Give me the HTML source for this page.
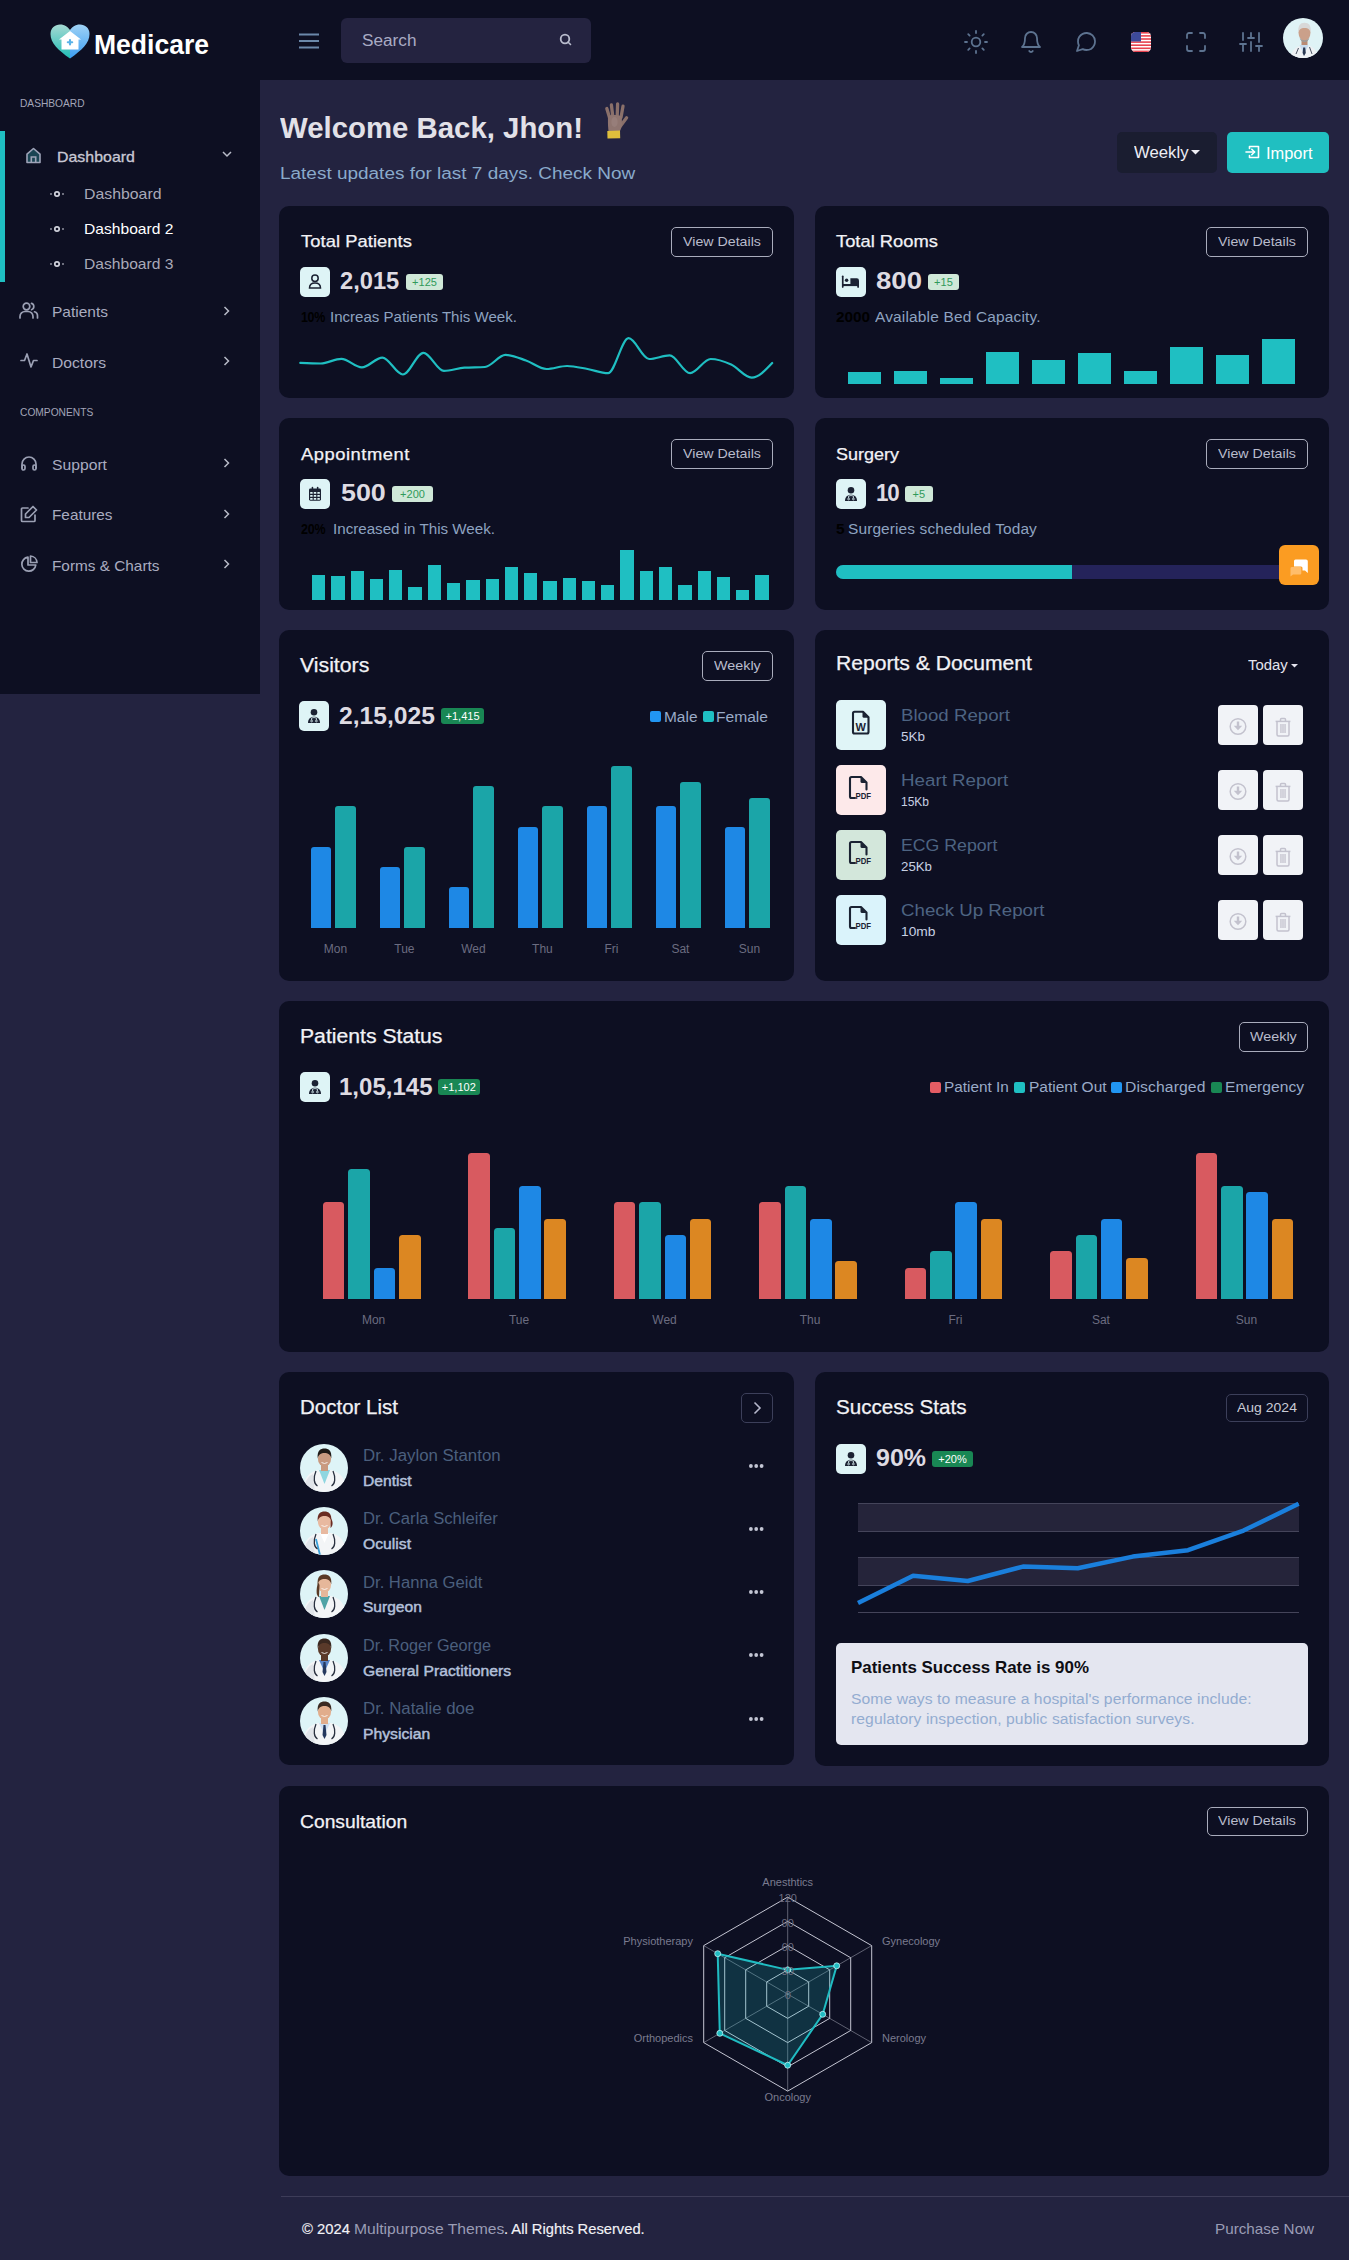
<!DOCTYPE html><html><head><meta charset="utf-8"><title>Medicare</title><style>
*{margin:0;padding:0;box-sizing:border-box}
html,body{width:1349px;height:2260px;overflow:hidden;background:#232340}
body{font-family:"Liberation Sans",sans-serif;position:relative;color:#e6e6ee}
.a{position:absolute}
.card{position:absolute;background:#0d0f22;border-radius:10px}
.t{position:absolute;white-space:nowrap;line-height:1}
.bx{position:absolute;box-sizing:border-box}
svg{position:absolute;overflow:visible}
</style></head><body>
<div class="bx" style="left:0.00px;top:0.00px;width:1349.00px;height:80.00px;background:#0d0f22"></div>
<div class="bx" style="left:0.00px;top:80.00px;width:260.00px;height:614.00px;background:#0d0f22"></div>
<svg style="left:50.00px;top:23.50px" width="40" height="35" viewBox="0 0 40 35">
<defs>
<linearGradient id="hl" x1="0" y1="0" x2="0" y2="1"><stop offset="0" stop-color="#a6d9d3"/><stop offset="1" stop-color="#1fbdb5"/></linearGradient>
<linearGradient id="hr" x1="0" y1="0" x2="0" y2="1"><stop offset="0" stop-color="#9fd2f5"/><stop offset="1" stop-color="#3b9df2"/></linearGradient>
<clipPath id="cl"><rect x="0" y="0" width="20" height="36"/></clipPath>
<clipPath id="cr"><rect x="20" y="0" width="20" height="36"/></clipPath>
</defs>
<path id="hp" d="M20 34.5 C 8 26 0.5 19 0.5 10 C 0.5 4 5 0.5 10 0.5 C 15 0.5 18 3 20 6 C 22 3 25 0.5 30 0.5 C 35 0.5 39.5 4 39.5 10 C 39.5 19 32 26 20 34.5 Z" fill="url(#hl)" clip-path="url(#cl)"/>
<path d="M20 34.5 C 8 26 0.5 19 0.5 10 C 0.5 4 5 0.5 10 0.5 C 15 0.5 18 3 20 6 C 22 3 25 0.5 30 0.5 C 35 0.5 39.5 4 39.5 10 C 39.5 19 32 26 20 34.5 Z" fill="url(#hr)" clip-path="url(#cr)"/>
<path d="M20 7 L9 15.5 L11.5 15.5 L11.5 25.5 L28.5 25.5 L28.5 15.5 L31 15.5 Z" fill="#fff"/>
<g stroke="#5ab2e8" stroke-width="2.1" stroke-linecap="round"><line x1="20" y1="16" x2="20" y2="20.4"/><line x1="17.8" y1="18.2" x2="22.2" y2="18.2"/></g>
</svg>
<div class="t" style="left:94.00px;top:31.30px;font-size:28.00px;color:#ffffff;font-weight:700;transform:scaleX(0.9473);transform-origin:0 0;">Medicare</div>
<svg style="left:299.00px;top:33.00px" width="20" height="16" viewBox="0 0 20 16"><g stroke="#6b88aa" stroke-width="2" stroke-linecap="butt"><line x1="0" y1="1.5" x2="20" y2="1.5"/><line x1="0" y1="8" x2="20" y2="8"/><line x1="0" y1="14.5" x2="20" y2="14.5"/></g></svg>
<div class="bx" style="left:341.00px;top:18.00px;width:250.00px;height:45.00px;background:#242340;border-radius:6px"></div>
<div class="t" style="left:361.50px;top:32.63px;font-size:15.80px;color:#a9abc4;transform:scaleX(1.0886);transform-origin:0 0;">Search</div>
<svg style="left:558.00px;top:32.00px" width="16" height="16" viewBox="0 0 16 16"><circle cx="7" cy="7" r="4.3" fill="none" stroke="#b9bccd" stroke-width="1.8"/><line x1="10.2" y1="10.2" x2="12.5" y2="12.5" stroke="#b9bccd" stroke-width="1.6" stroke-linecap="round"/></svg>
<svg style="left:964.00px;top:30.00px" width="24" height="24" viewBox="0 0 24 24"><g fill="none" stroke="#5d7390" stroke-width="1.8" stroke-linecap="round" stroke-linejoin="round"><circle cx="12" cy="12" r="4.3"/><line x1="12" y1="1" x2="12" y2="3"/><line x1="12" y1="21" x2="12" y2="23"/><line x1="4.22" y1="4.22" x2="5.64" y2="5.64"/><line x1="18.36" y1="18.36" x2="19.78" y2="19.78"/><line x1="1" y1="12" x2="3" y2="12"/><line x1="21" y1="12" x2="23" y2="12"/><line x1="4.22" y1="19.78" x2="5.64" y2="18.36"/><line x1="18.36" y1="5.64" x2="19.78" y2="4.22"/></g></svg>
<svg style="left:1019.00px;top:30.00px" width="24" height="24" viewBox="0 0 24 24"><g fill="none" stroke="#5d7390" stroke-width="1.8" stroke-linecap="round" stroke-linejoin="round"><path d="M18 8A6 6 0 0 0 6 8c0 7-3 9-3 9h18s-3-2-3-9"/><path d="M13.73 21a2 2 0 0 1-3.46 0"/></g></svg>
<svg style="left:1074.00px;top:30.00px" width="24" height="24" viewBox="0 0 24 24"><g fill="none" stroke="#5d7390" stroke-width="1.8" stroke-linecap="round" stroke-linejoin="round"><path d="M21 11.5a8.38 8.38 0 0 1-.9 3.8 8.5 8.5 0 0 1-7.6 4.7 8.38 8.38 0 0 1-3.8-.9L3 21l1.9-5.7a8.38 8.38 0 0 1-.9-3.8 8.5 8.5 0 0 1 4.7-7.6 8.38 8.38 0 0 1 3.8-.9h.5a8.48 8.48 0 0 1 8 8v.5z"/></g></svg>
<svg style="left:1131.00px;top:31.50px" width="20" height="20" viewBox="0 0 20 20"><defs><clipPath id="fc"><rect x="0" y="0" width="20" height="20" rx="4.5"/></clipPath></defs>
<g clip-path="url(#fc)"><rect width="20" height="20" fill="#fff"/>
<rect y="0" width="20" height="1.6" fill="#e8424f"/><rect y="3.1" width="20" height="1.6" fill="#e8424f"/><rect y="6.2" width="20" height="1.6" fill="#e8424f"/><rect y="9.3" width="20" height="1.6" fill="#e8424f"/><rect y="12.4" width="20" height="1.6" fill="#e8424f"/><rect y="15.5" width="20" height="1.6" fill="#e8424f"/><rect y="18.6" width="20" height="1.6" fill="#e8424f"/>
<rect x="0" y="0" width="10" height="9.5" fill="#3d4a9a"/></g></svg>
<svg style="left:1184.00px;top:30.00px" width="24" height="24" viewBox="0 0 24 24"><g fill="none" stroke="#5d7390" stroke-width="1.8" stroke-linecap="round" stroke-linejoin="round"><path d="M8 3H5a2 2 0 0 0-2 2v3"/><path d="M21 8V5a2 2 0 0 0-2-2h-3"/><path d="M3 16v3a2 2 0 0 0 2 2h3"/><path d="M16 21h3a2 2 0 0 0 2-2v-3"/></g></svg>
<svg style="left:1239.00px;top:30.00px" width="24" height="24" viewBox="0 0 24 24"><g fill="none" stroke="#5d7390" stroke-width="1.8" stroke-linecap="round" stroke-linejoin="round"><line x1="4" y1="21" x2="4" y2="14"/><line x1="4" y1="10" x2="4" y2="3"/><line x1="12" y1="21" x2="12" y2="12"/><line x1="12" y1="8" x2="12" y2="3"/><line x1="20" y1="21" x2="20" y2="16"/><line x1="20" y1="12" x2="20" y2="3"/><line x1="1" y1="14" x2="7" y2="14"/><line x1="9" y1="8" x2="15" y2="8"/><line x1="17" y1="16" x2="23" y2="16"/></g></svg>
<svg style="left:1283.00px;top:18.00px" width="40" height="40" viewBox="0 0 40 40"><defs><clipPath id="av"><circle cx="20" cy="20" r="20"/></clipPath></defs>
<circle cx="20" cy="20" r="20" fill="#dff3f6"/>
<g clip-path="url(#av)">
<path d="M7 42 C 8 33 12 29 19 27.5 L 23 26.5 C 30 28 34 32 36 42 Z" fill="#eef1f4"/>
<path d="M16.5 27.5 L 21.5 25 L 25.5 27.5 L 21 36 Z" fill="#c9dcef"/>
<path d="M20.2 29.5 L 22.2 29.5 L 22.8 35 L 21 38 L 19.6 35 Z" fill="#2a3852"/>
<path d="M13 36 L 15.5 30" stroke="#3a4252" stroke-width="0.9"/><path d="M29 36 L 26.5 29" stroke="#3a4252" stroke-width="0.9"/>
<rect x="18.5" y="20" width="6" height="7" fill="#b98b74"/>
<ellipse cx="21.5" cy="14.5" rx="6" ry="8" fill="#caa08a"/>
<path d="M15.4 15 C 14.6 8 17 4.8 21.5 4.8 C 26 4.8 28.5 7.5 27.6 15 C 27 11.5 25.5 10 21.5 10 C 17.5 10 16 11.5 15.4 15 Z" fill="#d8d8d8"/>
<path d="M16.5 19 C 18 23.5 25 23.5 26.5 19 C 26 22.5 24 24 21.5 24 C 19 24 17 22.5 16.5 19 Z" fill="#9b9b9b"/>
</g></svg>
<div class="t" style="left:20.20px;top:98.33px;font-size:10.60px;color:#a3a5b8;transform:scaleX(0.9621);transform-origin:0 0;">DASHBOARD</div>
<div class="bx" style="left:0.00px;top:131.00px;width:5.00px;height:151.00px;background:#1fbfc2"></div>
<svg style="left:25.00px;top:146.50px" width="17" height="17" viewBox="0 0 17 17"><path d="M2 7.2 L8.5 1.5 L15 7.2 V15.5 H2 Z" fill="#1a4453" stroke="#9ea3b8" stroke-width="1.6" stroke-linejoin="round"/><path d="M6.3 15.5 V10 H10.7 V15.5" fill="none" stroke="#9ea3b8" stroke-width="1.6"/></svg>
<div class="t" style="left:56.90px;top:150.28px;font-size:14.20px;color:#c8c8d4;letter-spacing:0.019px;transform:scaleX(1.1200);transform-origin:0 0;-webkit-text-stroke:0.3px #c8c8d4;">Dashboard</div>
<svg style="left:222.00px;top:150.50px" width="10" height="7" viewBox="0 0 10 7"><path d="M1 1 L5 5 L9 1" fill="none" stroke="#b8bbc8" stroke-width="1.5"/></svg>
<svg style="left:50.00px;top:190.50px" width="14" height="6" viewBox="0 0 14 6"><g stroke="#d0d2dc" fill="none"><line x1="0" y1="3" x2="2" y2="3" stroke-width="1"/><line x1="12" y1="3" x2="14" y2="3" stroke-width="1"/><circle cx="7" cy="3" r="2.2" stroke-width="1.7"/></g></svg>
<div class="t" style="left:84.40px;top:187.14px;font-size:14.60px;color:#a9a9b8;transform:scaleX(1.0851);transform-origin:0 0;">Dashboard</div>
<svg style="left:50.00px;top:225.50px" width="14" height="6" viewBox="0 0 14 6"><g stroke="#d0d2dc" fill="none"><line x1="0" y1="3" x2="2" y2="3" stroke-width="1"/><line x1="12" y1="3" x2="14" y2="3" stroke-width="1"/><circle cx="7" cy="3" r="2.2" stroke-width="1.7"/></g></svg>
<div class="t" style="left:84.40px;top:222.14px;font-size:14.60px;color:#ffffff;transform:scaleX(1.0706);transform-origin:0 0;">Dashboard 2</div>
<svg style="left:50.00px;top:260.50px" width="14" height="6" viewBox="0 0 14 6"><g stroke="#d0d2dc" fill="none"><line x1="0" y1="3" x2="2" y2="3" stroke-width="1"/><line x1="12" y1="3" x2="14" y2="3" stroke-width="1"/><circle cx="7" cy="3" r="2.2" stroke-width="1.7"/></g></svg>
<div class="t" style="left:84.40px;top:257.14px;font-size:14.60px;color:#a9a9b8;transform:scaleX(1.0706);transform-origin:0 0;">Dashboard 3</div>
<svg style="left:19.00px;top:302.00px" width="20" height="17" viewBox="0 0 20 17"><g fill="none" stroke="#9ba0b4" stroke-width="1.7" stroke-linecap="round"><circle cx="7.5" cy="4.5" r="3.3"/><path d="M1 16 V14.5 A5 5 0 0 1 6 9.5 H9 A5 5 0 0 1 14 14.5 V16"/><path d="M12.5 1.4 A3.3 3.3 0 0 1 12.5 7.7"/><path d="M15.5 9.8 A4.5 4.5 0 0 1 18.5 14.5 V16"/></g></svg>
<div class="t" style="left:51.60px;top:305.21px;font-size:14.40px;color:#a9acc0;transform:scaleX(1.0763);transform-origin:0 0;">Patients</div>
<svg style="left:223.00px;top:306.00px" width="8" height="10" viewBox="0 0 8 10"><path d="M1.5 1 L5.5 5 L1.5 9" fill="none" stroke="#b8bbc8" stroke-width="1.5"/></svg>
<svg style="left:20.00px;top:352.00px" width="18" height="17" viewBox="0 0 18 17"><path d="M1 8.5 H4.5 L7 2 L11 15 L13.5 8.5 H17" fill="none" stroke="#9ba0b4" stroke-width="1.7" stroke-linecap="round" stroke-linejoin="round"/></svg>
<div class="t" style="left:51.60px;top:355.81px;font-size:14.40px;color:#a9acc0;transform:scaleX(1.0884);transform-origin:0 0;">Doctors</div>
<svg style="left:223.00px;top:356.00px" width="8" height="10" viewBox="0 0 8 10"><path d="M1.5 1 L5.5 5 L1.5 9" fill="none" stroke="#b8bbc8" stroke-width="1.5"/></svg>
<div class="t" style="left:20.00px;top:406.53px;font-size:10.60px;color:#a3a5b8;transform:scaleX(0.9648);transform-origin:0 0;">COMPONENTS</div>
<svg style="left:20.00px;top:455.00px" width="18" height="16" viewBox="0 0 18 16"><g fill="none" stroke="#9ba0b4" stroke-width="1.7" stroke-linecap="round"><path d="M2 13 V9 A7 7 0 0 1 16 9 V13"/><rect x="2" y="10" width="3" height="5" rx="1.5"/><rect x="13" y="10" width="3" height="5" rx="1.5"/></g></svg>
<div class="t" style="left:51.60px;top:457.81px;font-size:14.40px;color:#a9acc0;transform:scaleX(1.0905);transform-origin:0 0;">Support</div>
<svg style="left:223.00px;top:458.00px" width="8" height="10" viewBox="0 0 8 10"><path d="M1.5 1 L5.5 5 L1.5 9" fill="none" stroke="#b8bbc8" stroke-width="1.5"/></svg>
<svg style="left:20.00px;top:505.00px" width="18" height="18" viewBox="0 0 18 18"><g fill="none" stroke="#9ba0b4" stroke-width="1.7" stroke-linecap="round" stroke-linejoin="round"><path d="M8 3 H2.5 A1 1 0 0 0 1.5 4 V15.5 A1 1 0 0 0 2.5 16.5 H14 A1 1 0 0 0 15 15.5 V10"/><path d="M13 1.5 L16.5 5 L9 12.5 H5.5 V9 Z"/></g></svg>
<div class="t" style="left:51.60px;top:508.31px;font-size:14.40px;color:#a9acc0;transform:scaleX(1.0646);transform-origin:0 0;">Features</div>
<svg style="left:223.00px;top:509.00px" width="8" height="10" viewBox="0 0 8 10"><path d="M1.5 1 L5.5 5 L1.5 9" fill="none" stroke="#b8bbc8" stroke-width="1.5"/></svg>
<svg style="left:20.00px;top:555.00px" width="18" height="18" viewBox="0 0 18 18"><g fill="none" stroke="#9ba0b4" stroke-width="1.7" stroke-linejoin="round"><path d="M8 2.2 A7 7 0 1 0 15.8 10 H8 Z"/><path d="M10.5 1 A7 7 0 0 1 17 7.5 H10.5 Z"/></g></svg>
<div class="t" style="left:51.60px;top:558.81px;font-size:14.40px;color:#a9acc0;transform:scaleX(1.0663);transform-origin:0 0;">Forms &amp; Charts</div>
<svg style="left:223.00px;top:559.00px" width="8" height="10" viewBox="0 0 8 10"><path d="M1.5 1 L5.5 5 L1.5 9" fill="none" stroke="#b8bbc8" stroke-width="1.5"/></svg>
<div class="t" style="left:280.00px;top:113.40px;font-size:29.30px;color:#e2e1e8;font-weight:700;transform:scaleX(1.0023);transform-origin:0 0;">Welcome Back, Jhon!</div>
<svg style="left:595.00px;top:98.00px" width="40" height="45" viewBox="0 0 40 45">
<g stroke="#8a706a" stroke-width="3.3" stroke-linecap="round" fill="none">
<path d="M11.8 10.5 L 14.8 20.5"/><path d="M16.4 7 L 17.8 18.5"/><path d="M22.6 6 L 22.2 18.5"/><path d="M28 8.2 L 26 19.5"/><path d="M31.6 19.8 L 25.5 28"/>
</g>
<path d="M13 18 C 14 16.5 25 16.5 26.8 18.5 L 27 27 C 26.5 30 25.5 32 25 33 L 13.5 33 C 13 29 12.8 24 13 18 Z" fill="#8f7570"/>
<ellipse cx="19.5" cy="24" rx="3.2" ry="5" fill="#a58f8c" opacity="0.35"/>
<path d="M12.3 33 L 25 32.6 L 25.2 40.2 L 12.5 40.5 Z" fill="#dfbf3c"/>
</svg>
<div class="t" style="left:279.50px;top:164.94px;font-size:17.20px;color:#8aaacb;transform:scaleX(1.1034);transform-origin:0 0;">Latest updates for last 7 days. Check Now</div>
<div class="bx" style="left:1117.00px;top:132.00px;width:100.00px;height:40.50px;background:#1a1d30;border-radius:5px"></div>
<div class="t" style="left:1134.00px;top:145.13px;font-size:15.80px;color:#eeeef4;transform:scaleX(1.0580);transform-origin:0 0;">Weekly</div>
<svg style="left:1191.00px;top:150.00px" width="9" height="5" viewBox="0 0 9 5"><path d="M0 0 H9 L4.5 4.5 Z" fill="#eeeef4"/></svg>
<div class="bx" style="left:1227.00px;top:132.00px;width:102.00px;height:40.50px;background:#20bfc1;border-radius:5px"></div>
<svg style="left:1245.00px;top:145.00px" width="15" height="14" viewBox="0 0 15 14"><g fill="none" stroke="#fff" stroke-width="1.6" stroke-linejoin="round" stroke-linecap="round"><path d="M4.5 3.5 V1.5 H13.5 V12.5 H4.5 V10.5"/><path d="M1 7 H9.5"/><path d="M6.8 4.3 L9.5 7 L6.8 9.7"/></g></svg>
<div class="t" style="left:1265.50px;top:146.13px;font-size:15.80px;color:#ffffff;transform:scaleX(1.0385);transform-origin:0 0;">Import</div>
<div class="card" style="left:279px;top:206px;width:515px;height:192px"></div>
<div class="t" style="left:301.00px;top:233.32px;font-size:16.40px;color:#f2f2f6;letter-spacing:0.046px;transform:scaleX(1.1200);transform-origin:0 0;-webkit-text-stroke:0.25px #f2f2f6;">Total Patients</div>
<div class="bx" style="left:671.00px;top:227.00px;width:102.00px;height:30.00px;border:1px solid #a9acbc;border-radius:5px"></div>
<div class="t" style="left:683.00px;top:234.78px;font-size:13.20px;color:#b9bccc;transform:scaleX(1.0775);transform-origin:0 0;">View Details</div>
<div class="bx" style="left:300.00px;top:267.00px;width:30.00px;height:30.00px;background:#def4f6;border-radius:5px"></div>
<svg style="left:300.00px;top:267.00px" width="30" height="30" viewBox="0 0 30 30"><g fill="none" stroke="#1b2233" stroke-width="1.5"><circle cx="15" cy="11.3" r="3.2"/><path d="M9.5 21 C 9.5 17.5 12 16 15 16 C 18 16 20.5 17.5 20.5 21 Z"/></g></svg>
<div class="t" style="left:340.40px;top:269.41px;font-size:24.80px;color:#dedbe2;font-weight:700;transform:scaleX(0.9555);transform-origin:0 0;">2,015</div>
<div class="bx" style="left:406.00px;top:274.00px;width:37.00px;height:16.00px;background:#cfe8d8;border-radius:3px"></div>
<div class="t" style="left:412.11px;top:276.95px;font-size:11.00px;color:#2f9a5a;">+125</div>
<div class="t" style="left:301.00px;top:310.52px;font-size:13.80px;color:#000000;font-weight:700;letter-spacing:-0.318px;transform:scaleX(0.9000);transform-origin:0 0;">10%</div>
<div class="t" style="left:329.50px;top:310.52px;font-size:13.80px;color:#8ea3c0;transform:scaleX(1.0916);transform-origin:0 0;">Increas Patients This Week.</div>
<svg style="left:0;top:0" width="1349" height="2260"><path d="M300.30 362.90 C307.14 363.20 313.98 363.50 320.82 363.50 C327.66 363.50 334.50 358.80 341.33 358.80 C348.17 358.80 355.01 367.40 361.85 367.40 C368.69 367.40 375.53 357.60 382.37 357.60 C389.21 357.60 396.05 374.50 402.88 374.50 C409.72 374.50 416.56 352.80 423.40 352.80 C430.24 352.80 437.08 370.90 443.92 370.90 C450.76 370.90 457.60 368.17 464.44 367.70 C471.28 367.23 478.11 367.47 484.95 367.00 C491.79 366.53 498.63 354.90 505.47 354.90 C512.31 354.90 519.15 358.15 525.99 360.50 C532.83 362.85 539.66 369.00 546.50 369.00 C553.34 369.00 560.18 366.00 567.02 366.00 C573.86 366.00 580.70 367.80 587.54 369.00 C594.38 370.20 601.22 373.20 608.06 373.20 C614.89 373.20 621.73 338.20 628.57 338.20 C635.41 338.20 642.25 359.00 649.09 359.00 C655.93 359.00 662.77 355.40 669.61 355.40 C676.45 355.40 683.28 373.20 690.12 373.20 C696.96 373.20 703.80 359.00 710.64 359.00 C717.48 359.00 724.32 361.40 731.16 364.50 C738.00 367.60 744.83 377.60 751.67 377.60 C758.51 377.60 765.35 370.30 772.19 363.00" fill="none" stroke="#1fbfc2" stroke-width="2.2" stroke-linecap="round"/></svg>
<div class="card" style="left:815px;top:206px;width:514px;height:192px"></div>
<div class="t" style="left:836.00px;top:233.32px;font-size:16.40px;color:#f2f2f6;transform:scaleX(1.1191);transform-origin:0 0;-webkit-text-stroke:0.25px #f2f2f6;">Total Rooms</div>
<div class="bx" style="left:1206.00px;top:227.00px;width:102.00px;height:30.00px;border:1px solid #a9acbc;border-radius:5px"></div>
<div class="t" style="left:1218.00px;top:234.78px;font-size:13.20px;color:#b9bccc;transform:scaleX(1.0775);transform-origin:0 0;">View Details</div>
<div class="bx" style="left:836.00px;top:267.00px;width:30.00px;height:30.00px;background:#def4f6;border-radius:5px"></div>
<svg style="left:836.00px;top:267.00px" width="30" height="30" viewBox="0 0 30 30"><g fill="#1b2233"><rect x="5.9" y="8.5" width="1.7" height="12.4" rx="0.8"/><rect x="6" y="17" width="17" height="2.1"/><rect x="21.2" y="14" width="1.8" height="6.9" rx="0.8"/><circle cx="10.6" cy="13.3" r="1.75"/><path d="M14.4 11.2 H20.8 A2.2 2.2 0 0 1 23 13.4 V18 H14.4 Z"/></g></svg>
<div class="t" style="left:876.00px;top:269.41px;font-size:24.80px;color:#dedbe2;font-weight:700;transform:scaleX(1.1117);transform-origin:0 0;">800</div>
<div class="bx" style="left:928.30px;top:274.00px;width:30.30px;height:16.00px;background:#cfe8d8;border-radius:3px"></div>
<div class="t" style="left:934.12px;top:276.95px;font-size:11.00px;color:#2f9a5a;">+15</div>
<div class="t" style="left:836.00px;top:310.52px;font-size:13.80px;color:#000000;font-weight:700;transform:scaleX(1.1075);transform-origin:0 0;">2000</div>
<div class="t" style="left:874.70px;top:310.52px;font-size:13.80px;color:#8ea3c0;letter-spacing:0.155px;transform:scaleX(1.1200);transform-origin:0 0;">Available Bed Capacity.</div>
<div class="bx" style="left:848.00px;top:371.80px;width:32.60px;height:12.00px;background:#1fbfc2"></div>
<div class="bx" style="left:894.00px;top:371.00px;width:32.60px;height:12.80px;background:#1fbfc2"></div>
<div class="bx" style="left:940.00px;top:377.80px;width:32.60px;height:6.00px;background:#1fbfc2"></div>
<div class="bx" style="left:986.00px;top:351.80px;width:32.60px;height:32.00px;background:#1fbfc2"></div>
<div class="bx" style="left:1032.00px;top:360.20px;width:32.60px;height:23.60px;background:#1fbfc2"></div>
<div class="bx" style="left:1078.00px;top:353.40px;width:32.60px;height:30.40px;background:#1fbfc2"></div>
<div class="bx" style="left:1124.00px;top:371.00px;width:32.60px;height:12.80px;background:#1fbfc2"></div>
<div class="bx" style="left:1170.00px;top:347.40px;width:32.60px;height:36.40px;background:#1fbfc2"></div>
<div class="bx" style="left:1216.00px;top:355.00px;width:32.60px;height:28.80px;background:#1fbfc2"></div>
<div class="bx" style="left:1262.00px;top:339.00px;width:32.60px;height:44.80px;background:#1fbfc2"></div>
<div class="card" style="left:279px;top:418px;width:515px;height:192px"></div>
<div class="t" style="left:301.00px;top:445.62px;font-size:16.40px;color:#f2f2f6;letter-spacing:0.476px;transform:scaleX(1.1200);transform-origin:0 0;-webkit-text-stroke:0.25px #f2f2f6;">Appointment</div>
<div class="bx" style="left:671.00px;top:439.00px;width:102.00px;height:30.00px;border:1px solid #a9acbc;border-radius:5px"></div>
<div class="t" style="left:683.00px;top:446.78px;font-size:13.20px;color:#b9bccc;transform:scaleX(1.0775);transform-origin:0 0;">View Details</div>
<div class="bx" style="left:300.00px;top:479.00px;width:30.00px;height:30.00px;background:#def4f6;border-radius:5px"></div>
<svg style="left:300.00px;top:479.00px" width="30" height="30" viewBox="0 0 30 30"><g fill="#1b2233"><rect x="9" y="9.5" width="12" height="12.2" rx="1.4"/><rect x="11.7" y="7.8" width="1.5" height="3" rx="0.7"/><rect x="16.9" y="7.8" width="1.5" height="3" rx="0.7"/></g><g fill="#def4f6"><rect x="10.1" y="12.9" width="2.6" height="1.8" rx="0.5"/><rect x="13.7" y="12.9" width="2.6" height="1.8" rx="0.5"/><rect x="17.3" y="12.9" width="2.6" height="1.8" rx="0.5"/><rect x="10.1" y="15.9" width="2.6" height="1.8" rx="0.5"/><rect x="13.7" y="15.9" width="2.6" height="1.8" rx="0.5"/><rect x="17.3" y="15.9" width="2.6" height="1.8" rx="0.5"/><rect x="10.1" y="18.9" width="2.6" height="1.8" rx="0.5"/><rect x="13.7" y="18.9" width="2.6" height="1.8" rx="0.5"/><rect x="17.3" y="18.9" width="2.6" height="1.8" rx="0.5"/></g></svg>
<div class="t" style="left:341.30px;top:481.41px;font-size:24.80px;color:#dedbe2;font-weight:700;transform:scaleX(1.0827);transform-origin:0 0;">500</div>
<div class="bx" style="left:392.00px;top:486.00px;width:41.00px;height:16.00px;background:#cfe8d8;border-radius:3px"></div>
<div class="t" style="left:400.11px;top:488.95px;font-size:11.00px;color:#2f9a5a;">+200</div>
<div class="t" style="left:301.00px;top:522.52px;font-size:13.80px;color:#000000;font-weight:700;letter-spacing:-0.133px;transform:scaleX(0.9000);transform-origin:0 0;">20%</div>
<div class="t" style="left:332.50px;top:522.52px;font-size:13.80px;color:#8ea3c0;transform:scaleX(1.0981);transform-origin:0 0;">Increased in This Week.</div>
<div class="bx" style="left:312.00px;top:575.00px;width:13.30px;height:25.00px;background:#1fbfc2"></div>
<div class="bx" style="left:331.28px;top:576.10px;width:13.30px;height:23.90px;background:#1fbfc2"></div>
<div class="bx" style="left:350.56px;top:571.30px;width:13.30px;height:28.70px;background:#1fbfc2"></div>
<div class="bx" style="left:369.84px;top:579.30px;width:13.30px;height:20.70px;background:#1fbfc2"></div>
<div class="bx" style="left:389.12px;top:570.10px;width:13.30px;height:29.90px;background:#1fbfc2"></div>
<div class="bx" style="left:408.40px;top:587.00px;width:13.30px;height:13.00px;background:#1fbfc2"></div>
<div class="bx" style="left:427.68px;top:564.90px;width:13.30px;height:35.10px;background:#1fbfc2"></div>
<div class="bx" style="left:446.96px;top:583.00px;width:13.30px;height:17.00px;background:#1fbfc2"></div>
<div class="bx" style="left:466.24px;top:580.10px;width:13.30px;height:19.90px;background:#1fbfc2"></div>
<div class="bx" style="left:485.52px;top:578.90px;width:13.30px;height:21.10px;background:#1fbfc2"></div>
<div class="bx" style="left:504.80px;top:566.50px;width:13.30px;height:33.50px;background:#1fbfc2"></div>
<div class="bx" style="left:524.08px;top:572.50px;width:13.30px;height:27.50px;background:#1fbfc2"></div>
<div class="bx" style="left:543.36px;top:581.30px;width:13.30px;height:18.70px;background:#1fbfc2"></div>
<div class="bx" style="left:562.64px;top:578.10px;width:13.30px;height:21.90px;background:#1fbfc2"></div>
<div class="bx" style="left:581.92px;top:581.30px;width:13.30px;height:18.70px;background:#1fbfc2"></div>
<div class="bx" style="left:601.20px;top:585.30px;width:13.30px;height:14.70px;background:#1fbfc2"></div>
<div class="bx" style="left:620.48px;top:550.10px;width:13.30px;height:49.90px;background:#1fbfc2"></div>
<div class="bx" style="left:639.76px;top:571.30px;width:13.30px;height:28.70px;background:#1fbfc2"></div>
<div class="bx" style="left:659.04px;top:567.30px;width:13.30px;height:32.70px;background:#1fbfc2"></div>
<div class="bx" style="left:678.32px;top:585.30px;width:13.30px;height:14.70px;background:#1fbfc2"></div>
<div class="bx" style="left:697.60px;top:570.90px;width:13.30px;height:29.10px;background:#1fbfc2"></div>
<div class="bx" style="left:716.88px;top:576.90px;width:13.30px;height:23.10px;background:#1fbfc2"></div>
<div class="bx" style="left:736.16px;top:590.10px;width:13.30px;height:9.90px;background:#1fbfc2"></div>
<div class="bx" style="left:755.44px;top:575.00px;width:13.30px;height:25.00px;background:#1fbfc2"></div>
<div class="card" style="left:815px;top:418px;width:514px;height:192px"></div>
<div class="t" style="left:836.00px;top:445.62px;font-size:16.40px;color:#f2f2f6;transform:scaleX(1.0971);transform-origin:0 0;-webkit-text-stroke:0.25px #f2f2f6;">Surgery</div>
<div class="bx" style="left:1206.00px;top:439.00px;width:102.00px;height:30.00px;border:1px solid #a9acbc;border-radius:5px"></div>
<div class="t" style="left:1218.00px;top:446.78px;font-size:13.20px;color:#b9bccc;transform:scaleX(1.0775);transform-origin:0 0;">View Details</div>
<div class="bx" style="left:836.00px;top:479.00px;width:30.00px;height:30.00px;background:#def4f6;border-radius:5px"></div>
<svg style="left:836.00px;top:479.00px" width="30" height="30" viewBox="0 0 30 30"><g fill="#1b2233"><circle cx="15" cy="11.2" r="3.3"/><path d="M9 22 C 9 18 11.5 15.8 15 15.8 C 18.5 15.8 21 18 21 22 Z"/></g><g fill="none" stroke="#def4f6" stroke-width="0.8"><circle cx="12.6" cy="20" r="0.9"/><circle cx="17.4" cy="20" r="0.9"/><path d="M12.6 19.1 V17 L15 16.5 L17.4 17 V19.1"/></g></svg>
<div class="t" style="left:876.00px;top:481.41px;font-size:24.80px;color:#dedbe2;font-weight:700;letter-spacing:-1.182px;transform:scaleX(0.9000);transform-origin:0 0;">10</div>
<div class="bx" style="left:905.00px;top:486.00px;width:27.60px;height:16.00px;background:#cfe8d8;border-radius:3px"></div>
<div class="t" style="left:912.53px;top:488.95px;font-size:11.00px;color:#2f9a5a;">+5</div>
<div class="t" style="left:836.00px;top:522.52px;font-size:13.80px;color:#000000;font-weight:700;letter-spacing:0.361px;transform:scaleX(1.1200);transform-origin:0 0;">5</div>
<div class="t" style="left:848.40px;top:522.52px;font-size:13.80px;color:#8ea3c0;letter-spacing:0.101px;transform:scaleX(1.1200);transform-origin:0 0;">Surgeries scheduled Today</div>
<div class="bx" style="left:836.00px;top:565.00px;width:472.00px;height:14.00px;background:#24235a;border-radius:7px"></div>
<div class="bx" style="left:836.00px;top:565.00px;width:236.00px;height:14.00px;background:#1fbfc2;border-radius:7px 0 0 7px"></div>
<div class="bx" style="left:1279.00px;top:545.00px;width:40.00px;height:40.00px;background:#fb9c22;border-radius:6px"></div>
<svg style="left:1285.00px;top:555.00px" width="28" height="24" viewBox="0 0 28 24"><path d="M9 6 A1.5 1.5 0 0 1 10.5 4.5 H21 A1.8 1.8 0 0 1 22.8 6.3 V18 L20 15.5 H17.5 V13 A1.5 1.5 0 0 0 16 11.5 H9 Z" fill="#fff"/><path d="M5.5 13.5 A1.3 1.3 0 0 1 6.8 12 H15 A1.3 1.3 0 0 1 16.3 13.3 V18.2 A1.3 1.3 0 0 1 15 19.5 H8 L5.5 21.5 Z" fill="#ffbd6a"/></svg>
<div class="card" style="left:279px;top:630px;width:515px;height:351px"></div>
<div class="t" style="left:300.00px;top:655.58px;font-size:19.40px;color:#f2f2f6;transform:scaleX(1.0957);transform-origin:0 0;-webkit-text-stroke:0.25px #f2f2f6;">Visitors</div>
<div class="bx" style="left:702.30px;top:651.20px;width:70.50px;height:29.60px;border:1px solid #a9acbc;border-radius:5px"></div>
<div class="t" style="left:714.15px;top:658.78px;font-size:13.20px;color:#b9bccc;transform:scaleX(1.0875);transform-origin:0 0;">Weekly</div>
<div class="bx" style="left:298.80px;top:701.30px;width:30.00px;height:30.00px;background:#def4f6;border-radius:5px"></div>
<svg style="left:298.80px;top:701.30px" width="30" height="30" viewBox="0 0 30 30"><g fill="#1b2233"><circle cx="15" cy="11.2" r="3.3"/><path d="M9 22 C 9 18 11.5 15.8 15 15.8 C 18.5 15.8 21 18 21 22 Z"/></g><g fill="none" stroke="#def4f6" stroke-width="0.8"><circle cx="12.6" cy="20" r="0.9"/><circle cx="17.4" cy="20" r="0.9"/><path d="M12.6 19.1 V17 L15 16.5 L17.4 17 V19.1"/></g></svg>
<div class="t" style="left:339.00px;top:704.21px;font-size:24.80px;color:#dedbe2;font-weight:700;transform:scaleX(0.9944);transform-origin:0 0;">2,15,025</div>
<div class="bx" style="left:441.30px;top:708.00px;width:42.50px;height:16.00px;background:#198754;border-radius:3px"></div>
<div class="t" style="left:445.57px;top:710.95px;font-size:11.00px;color:#ffffff;">+1,415</div>
<div class="bx" style="left:649.50px;top:710.50px;width:11.00px;height:11.00px;background:#2196f3;border-radius:2px"></div>
<div class="t" style="left:663.50px;top:709.65px;font-size:14.00px;color:#9aabc8;transform:scaleX(1.1040);transform-origin:0 0;">Male</div>
<div class="bx" style="left:702.50px;top:710.50px;width:11.00px;height:11.00px;background:#1fbfc2;border-radius:2px"></div>
<div class="t" style="left:716.00px;top:709.65px;font-size:14.00px;color:#9aabc8;transform:scaleX(1.1139);transform-origin:0 0;">Female</div>
<div class="bx" style="left:311.20px;top:847.40px;width:20.20px;height:80.80px;background:#1e88e5;border-radius:3px 3px 0 0"></div>
<div class="bx" style="left:335.40px;top:806.20px;width:20.20px;height:122.00px;background:#1ba5a8;border-radius:3px 3px 0 0"></div>
<div class="t" style="left:323.73px;top:942.84px;font-size:12.00px;color:#6b6c80;">Mon</div>
<div class="bx" style="left:380.20px;top:867.40px;width:20.20px;height:60.80px;background:#1e88e5;border-radius:3px 3px 0 0"></div>
<div class="bx" style="left:404.40px;top:847.40px;width:20.20px;height:80.80px;background:#1ba5a8;border-radius:3px 3px 0 0"></div>
<div class="t" style="left:394.28px;top:942.84px;font-size:12.00px;color:#6b6c80;">Tue</div>
<div class="bx" style="left:449.20px;top:887.40px;width:20.20px;height:40.80px;background:#1e88e5;border-radius:3px 3px 0 0"></div>
<div class="bx" style="left:473.40px;top:786.10px;width:20.20px;height:142.10px;background:#1ba5a8;border-radius:3px 3px 0 0"></div>
<div class="t" style="left:461.17px;top:942.84px;font-size:12.00px;color:#6b6c80;">Wed</div>
<div class="bx" style="left:518.20px;top:827.00px;width:20.20px;height:101.20px;background:#1e88e5;border-radius:3px 3px 0 0"></div>
<div class="bx" style="left:542.40px;top:806.20px;width:20.20px;height:122.00px;background:#1ba5a8;border-radius:3px 3px 0 0"></div>
<div class="t" style="left:532.06px;top:942.84px;font-size:12.00px;color:#6b6c80;">Thu</div>
<div class="bx" style="left:587.20px;top:806.20px;width:20.20px;height:122.00px;background:#1e88e5;border-radius:3px 3px 0 0"></div>
<div class="bx" style="left:611.40px;top:766.10px;width:20.20px;height:162.10px;background:#1ba5a8;border-radius:3px 3px 0 0"></div>
<div class="t" style="left:604.40px;top:942.84px;font-size:12.00px;color:#6b6c80;">Fri</div>
<div class="bx" style="left:656.20px;top:806.20px;width:20.20px;height:122.00px;background:#1e88e5;border-radius:3px 3px 0 0"></div>
<div class="bx" style="left:680.40px;top:782.10px;width:20.20px;height:146.10px;background:#1ba5a8;border-radius:3px 3px 0 0"></div>
<div class="t" style="left:671.39px;top:942.84px;font-size:12.00px;color:#6b6c80;">Sat</div>
<div class="bx" style="left:725.20px;top:827.00px;width:20.20px;height:101.20px;background:#1e88e5;border-radius:3px 3px 0 0"></div>
<div class="bx" style="left:749.40px;top:798.10px;width:20.20px;height:130.10px;background:#1ba5a8;border-radius:3px 3px 0 0"></div>
<div class="t" style="left:738.72px;top:942.84px;font-size:12.00px;color:#6b6c80;">Sun</div>
<div class="card" style="left:815px;top:630px;width:514px;height:351px"></div>
<div class="t" style="left:836.00px;top:653.58px;font-size:19.40px;color:#f2f2f6;transform:scaleX(1.0885);transform-origin:0 0;-webkit-text-stroke:0.25px #f2f2f6;">Reports &amp; Document</div>
<div class="t" style="left:1248.30px;top:657.65px;font-size:14.00px;color:#e4e4ee;transform:scaleX(1.0627);transform-origin:0 0;">Today</div>
<svg style="left:1291.00px;top:663.50px" width="7" height="4" viewBox="0 0 7 4"><path d="M0 0 H7 L3.5 3.5 Z" fill="#e4e4ee"/></svg>
<div class="bx" style="left:836.00px;top:700.00px;width:50.00px;height:50.00px;background:#e0f5f7;border-radius:5px"></div>
<svg style="left:836.00px;top:700.00px" width="50" height="50" viewBox="0 0 50 50"><path d="M18.5 11.8 H27 L32.5 17.3 V32 A1.5 1.5 0 0 1 31 33.5 H18.5 A1.5 1.5 0 0 1 17 32 V13.3 A1.5 1.5 0 0 1 18.5 11.8 Z" fill="none" stroke="#1b2333" stroke-width="2.1" stroke-linejoin="round"/><path d="M26.5 11.8 L32.5 17.8 H28 A1.5 1.5 0 0 1 26.5 16.3 Z" fill="#1b2333"/><text x="24.8" y="31" font-family="Liberation Sans" font-weight="700" font-size="11" fill="#1b2333" text-anchor="middle">W</text></svg>
<div class="t" style="left:900.80px;top:706.64px;font-size:17.20px;color:#4d6482;transform:scaleX(1.0857);transform-origin:0 0;">Blood Report</div>
<div class="t" style="left:900.80px;top:730.86px;font-size:12.80px;color:#c7d0e3;transform:scaleX(1.0538);transform-origin:0 0;">5Kb</div>
<div class="bx" style="left:1218.00px;top:705.00px;width:40.00px;height:40.00px;background:#f1f3f7;border-radius:4px"></div>
<svg style="left:1218.00px;top:705.00px" width="40" height="40" viewBox="0 0 40 40"><circle cx="20" cy="21.5" r="7.8" fill="none" stroke="#c3c2ce" stroke-width="1.5"/><rect x="18.8" y="16.5" width="2.4" height="5" fill="#c3c2ce"/><path d="M15.8 20.8 H24.2 L20 25.3 Z" fill="#c3c2ce"/></svg>
<div class="bx" style="left:1263.00px;top:705.00px;width:40.00px;height:40.00px;background:#f1f3f7;border-radius:4px"></div>
<svg style="left:1263.00px;top:699.50px" width="40" height="40" viewBox="0 0 40 40"><g fill="none" stroke="#c3c2ce" stroke-width="1.5" stroke-linejoin="round"><path d="M12.6 21.4 H27.4"/><path d="M17.5 21.4 V19.4 A1 1 0 0 1 18.5 18.4 H21.5 A1 1 0 0 1 22.5 19.4 V21.4"/><path d="M14 21.5 V34.5 A1.5 1.5 0 0 0 15.5 36 H24.5 A1.5 1.5 0 0 0 26 34.5 V21.5"/></g><g fill="#c3c2ce"><rect x="17.3" y="24" width="1.3" height="9"/><rect x="19.35" y="24" width="1.3" height="9"/><rect x="21.4" y="24" width="1.3" height="9"/></g></svg>
<div class="bx" style="left:836.00px;top:765.00px;width:50.00px;height:50.00px;background:#fde9ea;border-radius:5px"></div>
<svg style="left:836.00px;top:765.00px" width="50" height="50" viewBox="0 0 50 50"><path d="M19 33 H15.5 A1.5 1.5 0 0 1 14 31.5 V13.5 A1.5 1.5 0 0 1 15.5 12 H25 L30.5 17.5 V24.5" fill="none" stroke="#1b2333" stroke-width="2.1" stroke-linejoin="round" stroke-linecap="round"/><path d="M24.5 12 L30.5 18 H26 A1.5 1.5 0 0 1 24.5 16.5 Z" fill="#1b2333"/><text x="27.3" y="33.6" font-family="Liberation Sans" font-weight="700" font-size="8.6" fill="#1b2333" text-anchor="middle" textLength="15.6" lengthAdjust="spacingAndGlyphs">PDF</text></svg>
<div class="t" style="left:900.80px;top:771.64px;font-size:17.20px;color:#4d6482;transform:scaleX(1.0908);transform-origin:0 0;">Heart Report</div>
<div class="t" style="left:900.80px;top:795.86px;font-size:12.80px;color:#c7d0e3;transform:scaleX(0.9366);transform-origin:0 0;">15Kb</div>
<div class="bx" style="left:1218.00px;top:770.00px;width:40.00px;height:40.00px;background:#f1f3f7;border-radius:4px"></div>
<svg style="left:1218.00px;top:770.00px" width="40" height="40" viewBox="0 0 40 40"><circle cx="20" cy="21.5" r="7.8" fill="none" stroke="#c3c2ce" stroke-width="1.5"/><rect x="18.8" y="16.5" width="2.4" height="5" fill="#c3c2ce"/><path d="M15.8 20.8 H24.2 L20 25.3 Z" fill="#c3c2ce"/></svg>
<div class="bx" style="left:1263.00px;top:770.00px;width:40.00px;height:40.00px;background:#f1f3f7;border-radius:4px"></div>
<svg style="left:1263.00px;top:764.50px" width="40" height="40" viewBox="0 0 40 40"><g fill="none" stroke="#c3c2ce" stroke-width="1.5" stroke-linejoin="round"><path d="M12.6 21.4 H27.4"/><path d="M17.5 21.4 V19.4 A1 1 0 0 1 18.5 18.4 H21.5 A1 1 0 0 1 22.5 19.4 V21.4"/><path d="M14 21.5 V34.5 A1.5 1.5 0 0 0 15.5 36 H24.5 A1.5 1.5 0 0 0 26 34.5 V21.5"/></g><g fill="#c3c2ce"><rect x="17.3" y="24" width="1.3" height="9"/><rect x="19.35" y="24" width="1.3" height="9"/><rect x="21.4" y="24" width="1.3" height="9"/></g></svg>
<div class="bx" style="left:836.00px;top:830.00px;width:50.00px;height:50.00px;background:#d3e7db;border-radius:5px"></div>
<svg style="left:836.00px;top:830.00px" width="50" height="50" viewBox="0 0 50 50"><path d="M19 33 H15.5 A1.5 1.5 0 0 1 14 31.5 V13.5 A1.5 1.5 0 0 1 15.5 12 H25 L30.5 17.5 V24.5" fill="none" stroke="#1b2333" stroke-width="2.1" stroke-linejoin="round" stroke-linecap="round"/><path d="M24.5 12 L30.5 18 H26 A1.5 1.5 0 0 1 24.5 16.5 Z" fill="#1b2333"/><text x="27.3" y="33.6" font-family="Liberation Sans" font-weight="700" font-size="8.6" fill="#1b2333" text-anchor="middle" textLength="15.6" lengthAdjust="spacingAndGlyphs">PDF</text></svg>
<div class="t" style="left:900.80px;top:836.64px;font-size:17.20px;color:#4d6482;transform:scaleX(1.0301);transform-origin:0 0;">ECG Report</div>
<div class="t" style="left:900.80px;top:860.86px;font-size:12.80px;color:#c7d0e3;transform:scaleX(1.0370);transform-origin:0 0;">25Kb</div>
<div class="bx" style="left:1218.00px;top:835.00px;width:40.00px;height:40.00px;background:#f1f3f7;border-radius:4px"></div>
<svg style="left:1218.00px;top:835.00px" width="40" height="40" viewBox="0 0 40 40"><circle cx="20" cy="21.5" r="7.8" fill="none" stroke="#c3c2ce" stroke-width="1.5"/><rect x="18.8" y="16.5" width="2.4" height="5" fill="#c3c2ce"/><path d="M15.8 20.8 H24.2 L20 25.3 Z" fill="#c3c2ce"/></svg>
<div class="bx" style="left:1263.00px;top:835.00px;width:40.00px;height:40.00px;background:#f1f3f7;border-radius:4px"></div>
<svg style="left:1263.00px;top:829.50px" width="40" height="40" viewBox="0 0 40 40"><g fill="none" stroke="#c3c2ce" stroke-width="1.5" stroke-linejoin="round"><path d="M12.6 21.4 H27.4"/><path d="M17.5 21.4 V19.4 A1 1 0 0 1 18.5 18.4 H21.5 A1 1 0 0 1 22.5 19.4 V21.4"/><path d="M14 21.5 V34.5 A1.5 1.5 0 0 0 15.5 36 H24.5 A1.5 1.5 0 0 0 26 34.5 V21.5"/></g><g fill="#c3c2ce"><rect x="17.3" y="24" width="1.3" height="9"/><rect x="19.35" y="24" width="1.3" height="9"/><rect x="21.4" y="24" width="1.3" height="9"/></g></svg>
<div class="bx" style="left:836.00px;top:895.00px;width:50.00px;height:50.00px;background:#daf3fb;border-radius:5px"></div>
<svg style="left:836.00px;top:895.00px" width="50" height="50" viewBox="0 0 50 50"><path d="M19 33 H15.5 A1.5 1.5 0 0 1 14 31.5 V13.5 A1.5 1.5 0 0 1 15.5 12 H25 L30.5 17.5 V24.5" fill="none" stroke="#1b2333" stroke-width="2.1" stroke-linejoin="round" stroke-linecap="round"/><path d="M24.5 12 L30.5 18 H26 A1.5 1.5 0 0 1 24.5 16.5 Z" fill="#1b2333"/><text x="27.3" y="33.6" font-family="Liberation Sans" font-weight="700" font-size="8.6" fill="#1b2333" text-anchor="middle" textLength="15.6" lengthAdjust="spacingAndGlyphs">PDF</text></svg>
<div class="t" style="left:900.80px;top:901.64px;font-size:17.20px;color:#4d6482;transform:scaleX(1.0878);transform-origin:0 0;">Check Up Report</div>
<div class="t" style="left:900.80px;top:925.86px;font-size:12.80px;color:#c7d0e3;transform:scaleX(1.0775);transform-origin:0 0;">10mb</div>
<div class="bx" style="left:1218.00px;top:900.00px;width:40.00px;height:40.00px;background:#f1f3f7;border-radius:4px"></div>
<svg style="left:1218.00px;top:900.00px" width="40" height="40" viewBox="0 0 40 40"><circle cx="20" cy="21.5" r="7.8" fill="none" stroke="#c3c2ce" stroke-width="1.5"/><rect x="18.8" y="16.5" width="2.4" height="5" fill="#c3c2ce"/><path d="M15.8 20.8 H24.2 L20 25.3 Z" fill="#c3c2ce"/></svg>
<div class="bx" style="left:1263.00px;top:900.00px;width:40.00px;height:40.00px;background:#f1f3f7;border-radius:4px"></div>
<svg style="left:1263.00px;top:894.50px" width="40" height="40" viewBox="0 0 40 40"><g fill="none" stroke="#c3c2ce" stroke-width="1.5" stroke-linejoin="round"><path d="M12.6 21.4 H27.4"/><path d="M17.5 21.4 V19.4 A1 1 0 0 1 18.5 18.4 H21.5 A1 1 0 0 1 22.5 19.4 V21.4"/><path d="M14 21.5 V34.5 A1.5 1.5 0 0 0 15.5 36 H24.5 A1.5 1.5 0 0 0 26 34.5 V21.5"/></g><g fill="#c3c2ce"><rect x="17.3" y="24" width="1.3" height="9"/><rect x="19.35" y="24" width="1.3" height="9"/><rect x="21.4" y="24" width="1.3" height="9"/></g></svg>
<div class="card" style="left:279px;top:1001px;width:1050px;height:351px"></div>
<div class="t" style="left:300.00px;top:1027.08px;font-size:19.40px;color:#f2f2f6;transform:scaleX(1.0921);transform-origin:0 0;-webkit-text-stroke:0.25px #f2f2f6;">Patients Status</div>
<div class="bx" style="left:1238.80px;top:1022.00px;width:69.00px;height:29.60px;border:1px solid #a9acbc;border-radius:5px"></div>
<div class="t" style="left:1249.90px;top:1029.58px;font-size:13.20px;color:#b9bccc;transform:scaleX(1.0875);transform-origin:0 0;">Weekly</div>
<div class="bx" style="left:299.50px;top:1072.30px;width:30.00px;height:30.00px;background:#def4f6;border-radius:5px"></div>
<svg style="left:299.50px;top:1072.30px" width="30" height="30" viewBox="0 0 30 30"><g fill="#1b2233"><circle cx="15" cy="11.2" r="3.3"/><path d="M9 22 C 9 18 11.5 15.8 15 15.8 C 18.5 15.8 21 18 21 22 Z"/></g><g fill="none" stroke="#def4f6" stroke-width="0.8"><circle cx="12.6" cy="20" r="0.9"/><circle cx="17.4" cy="20" r="0.9"/><path d="M12.6 19.1 V17 L15 16.5 L17.4 17 V19.1"/></g></svg>
<div class="t" style="left:339.00px;top:1075.21px;font-size:24.80px;color:#dedbe2;font-weight:700;transform:scaleX(0.9685);transform-origin:0 0;">1,05,145</div>
<div class="bx" style="left:438.00px;top:1079.00px;width:41.60px;height:16.00px;background:#198754;border-radius:3px"></div>
<div class="t" style="left:441.82px;top:1081.95px;font-size:11.00px;color:#ffffff;">+1,102</div>
<div class="bx" style="left:930.00px;top:1081.50px;width:11.00px;height:11.00px;background:#e45c64;border-radius:2px"></div>
<div class="t" style="left:944.30px;top:1080.45px;font-size:14.00px;color:#9aabc8;transform:scaleX(1.0955);transform-origin:0 0;">Patient In</div>
<div class="bx" style="left:1014.30px;top:1081.50px;width:11.00px;height:11.00px;background:#1fbfc2;border-radius:2px"></div>
<div class="t" style="left:1028.60px;top:1080.45px;font-size:14.00px;color:#9aabc8;transform:scaleX(1.1079);transform-origin:0 0;">Patient Out</div>
<div class="bx" style="left:1110.90px;top:1081.50px;width:11.00px;height:11.00px;background:#2196f3;border-radius:2px"></div>
<div class="t" style="left:1125.20px;top:1080.45px;font-size:14.00px;color:#9aabc8;letter-spacing:0.106px;transform:scaleX(1.1200);transform-origin:0 0;">Discharged</div>
<div class="bx" style="left:1210.50px;top:1081.50px;width:11.00px;height:11.00px;background:#198754;border-radius:2px"></div>
<div class="t" style="left:1224.80px;top:1080.45px;font-size:14.00px;color:#9aabc8;transform:scaleX(1.1157);transform-origin:0 0;">Emergency</div>
<div class="bx" style="left:322.80px;top:1202.00px;width:21.50px;height:96.80px;background:#d85a60;border-radius:3.5px 3.5px 0 0"></div>
<div class="bx" style="left:348.20px;top:1169.20px;width:21.50px;height:129.60px;background:#1ba5a8;border-radius:3.5px 3.5px 0 0"></div>
<div class="bx" style="left:373.60px;top:1267.60px;width:21.50px;height:31.20px;background:#1e88e5;border-radius:3.5px 3.5px 0 0"></div>
<div class="bx" style="left:399.00px;top:1234.80px;width:21.50px;height:64.00px;background:#dc8722;border-radius:3.5px 3.5px 0 0"></div>
<div class="t" style="left:361.93px;top:1313.84px;font-size:12.00px;color:#6b6c80;">Mon</div>
<div class="bx" style="left:468.27px;top:1153.20px;width:21.50px;height:145.60px;background:#d85a60;border-radius:3.5px 3.5px 0 0"></div>
<div class="bx" style="left:493.67px;top:1228.40px;width:21.50px;height:70.40px;background:#1ba5a8;border-radius:3.5px 3.5px 0 0"></div>
<div class="bx" style="left:519.07px;top:1186.00px;width:21.50px;height:112.80px;background:#1e88e5;border-radius:3.5px 3.5px 0 0"></div>
<div class="bx" style="left:544.47px;top:1218.80px;width:21.50px;height:80.00px;background:#dc8722;border-radius:3.5px 3.5px 0 0"></div>
<div class="t" style="left:508.95px;top:1313.84px;font-size:12.00px;color:#6b6c80;">Tue</div>
<div class="bx" style="left:613.74px;top:1202.00px;width:21.50px;height:96.80px;background:#d85a60;border-radius:3.5px 3.5px 0 0"></div>
<div class="bx" style="left:639.14px;top:1202.00px;width:21.50px;height:96.80px;background:#1ba5a8;border-radius:3.5px 3.5px 0 0"></div>
<div class="bx" style="left:664.54px;top:1234.80px;width:21.50px;height:64.00px;background:#1e88e5;border-radius:3.5px 3.5px 0 0"></div>
<div class="bx" style="left:689.94px;top:1218.80px;width:21.50px;height:80.00px;background:#dc8722;border-radius:3.5px 3.5px 0 0"></div>
<div class="t" style="left:652.31px;top:1313.84px;font-size:12.00px;color:#6b6c80;">Wed</div>
<div class="bx" style="left:759.21px;top:1202.00px;width:21.50px;height:96.80px;background:#d85a60;border-radius:3.5px 3.5px 0 0"></div>
<div class="bx" style="left:784.61px;top:1186.00px;width:21.50px;height:112.80px;background:#1ba5a8;border-radius:3.5px 3.5px 0 0"></div>
<div class="bx" style="left:810.01px;top:1218.80px;width:21.50px;height:80.00px;background:#1e88e5;border-radius:3.5px 3.5px 0 0"></div>
<div class="bx" style="left:835.41px;top:1261.20px;width:21.50px;height:37.60px;background:#dc8722;border-radius:3.5px 3.5px 0 0"></div>
<div class="t" style="left:799.67px;top:1313.84px;font-size:12.00px;color:#6b6c80;">Thu</div>
<div class="bx" style="left:904.68px;top:1267.60px;width:21.50px;height:31.20px;background:#d85a60;border-radius:3.5px 3.5px 0 0"></div>
<div class="bx" style="left:930.08px;top:1250.80px;width:21.50px;height:48.00px;background:#1ba5a8;border-radius:3.5px 3.5px 0 0"></div>
<div class="bx" style="left:955.48px;top:1202.00px;width:21.50px;height:96.80px;background:#1e88e5;border-radius:3.5px 3.5px 0 0"></div>
<div class="bx" style="left:980.88px;top:1218.80px;width:21.50px;height:80.00px;background:#dc8722;border-radius:3.5px 3.5px 0 0"></div>
<div class="t" style="left:948.48px;top:1313.84px;font-size:12.00px;color:#6b6c80;">Fri</div>
<div class="bx" style="left:1050.15px;top:1250.80px;width:21.50px;height:48.00px;background:#d85a60;border-radius:3.5px 3.5px 0 0"></div>
<div class="bx" style="left:1075.55px;top:1234.80px;width:21.50px;height:64.00px;background:#1ba5a8;border-radius:3.5px 3.5px 0 0"></div>
<div class="bx" style="left:1100.95px;top:1218.80px;width:21.50px;height:80.00px;background:#1e88e5;border-radius:3.5px 3.5px 0 0"></div>
<div class="bx" style="left:1126.35px;top:1258.00px;width:21.50px;height:40.80px;background:#dc8722;border-radius:3.5px 3.5px 0 0"></div>
<div class="t" style="left:1091.94px;top:1313.84px;font-size:12.00px;color:#6b6c80;">Sat</div>
<div class="bx" style="left:1195.62px;top:1153.20px;width:21.50px;height:145.60px;background:#d85a60;border-radius:3.5px 3.5px 0 0"></div>
<div class="bx" style="left:1221.02px;top:1186.00px;width:21.50px;height:112.80px;background:#1ba5a8;border-radius:3.5px 3.5px 0 0"></div>
<div class="bx" style="left:1246.42px;top:1192.40px;width:21.50px;height:106.40px;background:#1e88e5;border-radius:3.5px 3.5px 0 0"></div>
<div class="bx" style="left:1271.82px;top:1218.80px;width:21.50px;height:80.00px;background:#dc8722;border-radius:3.5px 3.5px 0 0"></div>
<div class="t" style="left:1235.74px;top:1313.84px;font-size:12.00px;color:#6b6c80;">Sun</div>
<div class="card" style="left:279px;top:1372px;width:515px;height:393px"></div>
<div class="t" style="left:300.00px;top:1398.38px;font-size:19.40px;color:#f2f2f6;transform:scaleX(1.0570);transform-origin:0 0;-webkit-text-stroke:0.25px #f2f2f6;">Doctor List</div>
<div class="bx" style="left:741.20px;top:1393.20px;width:31.60px;height:29.60px;border:1px solid #3c3f5a;border-radius:5px"></div>
<svg style="left:752.00px;top:1401.00px" width="10" height="14" viewBox="0 0 10 14"><path d="M2.5 1.5 L8 7 L2.5 12.5" fill="none" stroke="#b4b6ca" stroke-width="1.6"/></svg>
<svg style="left:300.00px;top:1443.90px" width="48" height="48" viewBox="0 0 48 48"><defs><clipPath id="dav0"><circle cx="24" cy="24" r="24"/></clipPath></defs><circle cx="24" cy="24" r="24" fill="#def4f7"/><g clip-path="url(#dav0)"><path d="M2 50 C 3 34 9 28 18 26 L 31 26 C 40 28 46 34 47 50 Z" fill="#f3f5f7"/><path d="M3 50 C 4 38 8 32 13 30 L 15 50 Z" fill="#e1e5ea"/><path d="M19 26 L24.5 40 L30 26 Z" fill="#8fd6e0"/><path d="M16 27 C 13 34 14 40 17.5 42" fill="none" stroke="#2a3140" stroke-width="1.3"/><path d="M33 27 C 36 34 35 40 31.5 42" fill="none" stroke="#2a3140" stroke-width="1.3"/><rect x="21" y="19" width="7" height="8" fill="#c99a80"/><ellipse cx="24.5" cy="14.5" rx="6.6" ry="8" fill="#c99a80"/><path d="M17.7 14.5 C 17 6.5 20.5 4.6 24.5 4.6 C 28.5 4.6 32 6.5 31.3 14.5 C 30.5 10.5 28 9 24.5 9 C 21 9 18.5 10.5 17.7 14.5 Z" fill="#1f1a17"/><path d="M21.5 18.5 Q24.5 20.5 27.5 18.5" fill="none" stroke="#ffffff" stroke-width="1" opacity="0.8"/></g></svg>
<div class="t" style="left:363.30px;top:1448.19px;font-size:15.60px;color:#4b5f7d;transform:scaleX(1.0802);transform-origin:0 0;">Dr. Jaylon Stanton</div>
<div class="t" style="left:363.30px;top:1473.95px;font-size:14.00px;color:#b3c0da;transform:scaleX(1.1154);transform-origin:0 0;-webkit-text-stroke:0.45px #b3c0da;">Dentist</div>
<svg style="left:747.50px;top:1463.70px" width="17" height="4" viewBox="0 0 17 4"><circle cx="2.9" cy="2" r="1.9" fill="#c3c6d4"/><circle cx="8.2" cy="2" r="1.9" fill="#c3c6d4"/><circle cx="13.6" cy="2" r="1.9" fill="#c3c6d4"/></svg>
<svg style="left:300.00px;top:1507.10px" width="48" height="48" viewBox="0 0 48 48"><defs><clipPath id="dav1"><circle cx="24" cy="24" r="24"/></clipPath></defs><circle cx="24" cy="24" r="24" fill="#def4f7"/><g clip-path="url(#dav1)"><path d="M2 50 C 3 34 9 28 18 26 L 31 26 C 40 28 46 34 47 50 Z" fill="#f3f5f7"/><path d="M3 50 C 4 38 8 32 13 30 L 15 50 Z" fill="#e1e5ea"/><path d="M20 26 L24.5 36 L29 26 Z" fill="#ffffff"/><path d="M16 32 L20 48" stroke="#3aa0d8" stroke-width="1.8"/><path d="M16 27 C 13 34 14 40 17.5 42" fill="none" stroke="#2a3140" stroke-width="1.3"/><path d="M33 27 C 36 34 35 40 31.5 42" fill="none" stroke="#2a3140" stroke-width="1.3"/><rect x="21" y="19" width="7" height="8" fill="#e8b9a0"/><ellipse cx="24.5" cy="14.5" rx="6.6" ry="8" fill="#e8b9a0"/><path d="M17.7 14.5 C 17 6.5 20.5 4.6 24.5 4.6 C 28.5 4.6 32 6.5 31.3 14.5 C 30.5 10.5 28 9 24.5 9 C 21 9 18.5 10.5 17.7 14.5 Z" fill="#6a2c22"/><path d="M30.8 11 C 33.5 15 33 19 30.5 21 L 30.8 13 Z" fill="#6a2c22"/><path d="M21.5 18.5 Q24.5 20.5 27.5 18.5" fill="none" stroke="#ffffff" stroke-width="1" opacity="0.8"/></g></svg>
<div class="t" style="left:363.30px;top:1511.39px;font-size:15.60px;color:#4b5f7d;transform:scaleX(1.0658);transform-origin:0 0;">Dr. Carla Schleifer</div>
<div class="t" style="left:363.30px;top:1537.15px;font-size:14.00px;color:#b3c0da;letter-spacing:0.010px;transform:scaleX(1.1200);transform-origin:0 0;-webkit-text-stroke:0.45px #b3c0da;">Oculist</div>
<svg style="left:747.50px;top:1526.90px" width="17" height="4" viewBox="0 0 17 4"><circle cx="2.9" cy="2" r="1.9" fill="#c3c6d4"/><circle cx="8.2" cy="2" r="1.9" fill="#c3c6d4"/><circle cx="13.6" cy="2" r="1.9" fill="#c3c6d4"/></svg>
<svg style="left:300.00px;top:1570.30px" width="48" height="48" viewBox="0 0 48 48"><defs><clipPath id="dav2"><circle cx="24" cy="24" r="24"/></clipPath></defs><circle cx="24" cy="24" r="24" fill="#def4f7"/><g clip-path="url(#dav2)"><path d="M2 50 C 3 34 9 28 18 26 L 31 26 C 40 28 46 34 47 50 Z" fill="#f3f5f7"/><path d="M3 50 C 4 38 8 32 13 30 L 15 50 Z" fill="#e1e5ea"/><path d="M19 26 L24.5 40 L30 26 Z" fill="#4fa3a6"/><path d="M16 27 C 13 34 14 40 17.5 42" fill="none" stroke="#2a3140" stroke-width="1.3"/><path d="M33 27 C 36 34 35 40 31.5 42" fill="none" stroke="#2a3140" stroke-width="1.3"/><rect x="21" y="19" width="7" height="8" fill="#e6b79a"/><ellipse cx="24.5" cy="14.5" rx="6.6" ry="8" fill="#e6b79a"/><path d="M17.7 14.5 C 17 6.5 20.5 4.6 24.5 4.6 C 28.5 4.6 32 6.5 31.3 14.5 C 30.5 10.5 28 9 24.5 9 C 21 9 18.5 10.5 17.7 14.5 Z" fill="#5a3a25"/><path d="M18 12 C 16 20 16 26 19 27 L 19.5 15 Z" fill="#5a3a25"/><path d="M21.5 18.5 Q24.5 20.5 27.5 18.5" fill="none" stroke="#ffffff" stroke-width="1" opacity="0.8"/></g></svg>
<div class="t" style="left:363.30px;top:1574.59px;font-size:15.60px;color:#4b5f7d;transform:scaleX(1.0665);transform-origin:0 0;">Dr. Hanna Geidt</div>
<div class="t" style="left:363.30px;top:1600.35px;font-size:14.00px;color:#b3c0da;transform:scaleX(1.1109);transform-origin:0 0;-webkit-text-stroke:0.45px #b3c0da;">Surgeon</div>
<svg style="left:747.50px;top:1590.10px" width="17" height="4" viewBox="0 0 17 4"><circle cx="2.9" cy="2" r="1.9" fill="#c3c6d4"/><circle cx="8.2" cy="2" r="1.9" fill="#c3c6d4"/><circle cx="13.6" cy="2" r="1.9" fill="#c3c6d4"/></svg>
<svg style="left:300.00px;top:1633.50px" width="48" height="48" viewBox="0 0 48 48"><defs><clipPath id="dav3"><circle cx="24" cy="24" r="24"/></clipPath></defs><circle cx="24" cy="24" r="24" fill="#def4f7"/><g clip-path="url(#dav3)"><path d="M2 50 C 3 34 9 28 18 26 L 31 26 C 40 28 46 34 47 50 Z" fill="#f3f5f7"/><path d="M3 50 C 4 38 8 32 13 30 L 15 50 Z" fill="#e1e5ea"/><path d="M19 26 L24.5 38 L30 26 Z" fill="#5b86c8"/><path d="M23.5 28 L25.5 28 L26.5 38 L24.5 42 L22.5 38 Z" fill="#24385e"/><path d="M16 27 C 13 34 14 40 17.5 42" fill="none" stroke="#2a3140" stroke-width="1.3"/><path d="M33 27 C 36 34 35 40 31.5 42" fill="none" stroke="#2a3140" stroke-width="1.3"/><rect x="21" y="19" width="7" height="8" fill="#5a3a2a"/><ellipse cx="24.5" cy="14.5" rx="6.6" ry="8" fill="#5a3a2a"/><path d="M17.7 14.5 C 17 6.5 20.5 4.6 24.5 4.6 C 28.5 4.6 32 6.5 31.3 14.5 C 30.5 10.5 28 9 24.5 9 C 21 9 18.5 10.5 17.7 14.5 Z" fill="#3a2820"/><path d="M21.5 18.5 Q24.5 20.5 27.5 18.5" fill="none" stroke="#ffffff" stroke-width="1" opacity="0.8"/></g></svg>
<div class="t" style="left:363.30px;top:1637.79px;font-size:15.60px;color:#4b5f7d;transform:scaleX(1.0404);transform-origin:0 0;">Dr. Roger George</div>
<div class="t" style="left:363.30px;top:1663.55px;font-size:14.00px;color:#b3c0da;letter-spacing:0.035px;transform:scaleX(1.1200);transform-origin:0 0;-webkit-text-stroke:0.45px #b3c0da;">General Practitioners</div>
<svg style="left:747.50px;top:1653.30px" width="17" height="4" viewBox="0 0 17 4"><circle cx="2.9" cy="2" r="1.9" fill="#c3c6d4"/><circle cx="8.2" cy="2" r="1.9" fill="#c3c6d4"/><circle cx="13.6" cy="2" r="1.9" fill="#c3c6d4"/></svg>
<svg style="left:300.00px;top:1696.70px" width="48" height="48" viewBox="0 0 48 48"><defs><clipPath id="dav4"><circle cx="24" cy="24" r="24"/></clipPath></defs><circle cx="24" cy="24" r="24" fill="#def4f7"/><g clip-path="url(#dav4)"><path d="M2 50 C 3 34 9 28 18 26 L 31 26 C 40 28 46 34 47 50 Z" fill="#f3f5f7"/><path d="M3 50 C 4 38 8 32 13 30 L 15 50 Z" fill="#e1e5ea"/><path d="M19 26 L24.5 38 L30 26 Z" fill="#cfe0f2"/><path d="M23.5 28 L25.5 28 L26.5 38 L24.5 42 L22.5 38 Z" fill="#24385e"/><path d="M16 27 C 13 34 14 40 17.5 42" fill="none" stroke="#2a3140" stroke-width="1.3"/><path d="M33 27 C 36 34 35 40 31.5 42" fill="none" stroke="#2a3140" stroke-width="1.3"/><rect x="21" y="19" width="7" height="8" fill="#e1ad8c"/><ellipse cx="24.5" cy="14.5" rx="6.6" ry="8" fill="#e1ad8c"/><path d="M17.7 14.5 C 17 6.5 20.5 4.6 24.5 4.6 C 28.5 4.6 32 6.5 31.3 14.5 C 30.5 10.5 28 9 24.5 9 C 21 9 18.5 10.5 17.7 14.5 Z" fill="#3a2a22"/><path d="M21.5 18.5 Q24.5 20.5 27.5 18.5" fill="none" stroke="#ffffff" stroke-width="1" opacity="0.8"/></g></svg>
<div class="t" style="left:363.30px;top:1700.99px;font-size:15.60px;color:#4b5f7d;transform:scaleX(1.0786);transform-origin:0 0;">Dr. Natalie doe</div>
<div class="t" style="left:363.30px;top:1726.75px;font-size:14.00px;color:#b3c0da;letter-spacing:0.019px;transform:scaleX(1.1200);transform-origin:0 0;-webkit-text-stroke:0.45px #b3c0da;">Physician</div>
<svg style="left:747.50px;top:1716.50px" width="17" height="4" viewBox="0 0 17 4"><circle cx="2.9" cy="2" r="1.9" fill="#c3c6d4"/><circle cx="8.2" cy="2" r="1.9" fill="#c3c6d4"/><circle cx="13.6" cy="2" r="1.9" fill="#c3c6d4"/></svg>
<div class="card" style="left:815px;top:1372px;width:514px;height:394px"></div>
<div class="t" style="left:836.00px;top:1398.28px;font-size:19.40px;color:#f2f2f6;transform:scaleX(1.0625);transform-origin:0 0;-webkit-text-stroke:0.25px #f2f2f6;">Success Stats</div>
<div class="bx" style="left:1225.50px;top:1393.60px;width:82.00px;height:28.70px;border:1px solid #3c3f5a;border-radius:5px"></div>
<div class="t" style="left:1236.50px;top:1401.33px;font-size:13.20px;color:#c9cbd6;transform:scaleX(1.0616);transform-origin:0 0;">Aug 2024</div>
<div class="bx" style="left:836.00px;top:1444.00px;width:30.00px;height:30.00px;background:#def4f6;border-radius:5px"></div>
<svg style="left:836.00px;top:1444.00px" width="30" height="30" viewBox="0 0 30 30"><g fill="#1b2233"><circle cx="15" cy="11.2" r="3.3"/><path d="M9 22 C 9 18 11.5 15.8 15 15.8 C 18.5 15.8 21 18 21 22 Z"/></g><g fill="none" stroke="#def4f6" stroke-width="0.8"><circle cx="12.6" cy="20" r="0.9"/><circle cx="17.4" cy="20" r="0.9"/><path d="M12.6 19.1 V17 L15 16.5 L17.4 17 V19.1"/></g></svg>
<div class="t" style="left:876.00px;top:1446.21px;font-size:24.80px;color:#dedbe2;font-weight:700;transform:scaleX(1.0073);transform-origin:0 0;">90%</div>
<div class="bx" style="left:932.30px;top:1451.00px;width:40.30px;height:16.00px;background:#198754;border-radius:3px"></div>
<div class="t" style="left:938.23px;top:1453.95px;font-size:11.00px;color:#ffffff;">+20%</div>
<div class="bx" style="left:858.00px;top:1503.00px;width:440.60px;height:28.00px;background:#25243a"></div>
<div class="bx" style="left:858.00px;top:1557.80px;width:440.60px;height:28.00px;background:#25243a"></div>
<div class="bx" style="left:858.00px;top:1502.50px;width:440.60px;height:1.20px;background:#44445a"></div>
<div class="bx" style="left:858.00px;top:1530.50px;width:440.60px;height:1.20px;background:#44445a"></div>
<div class="bx" style="left:858.00px;top:1557.30px;width:440.60px;height:1.20px;background:#44445a"></div>
<div class="bx" style="left:858.00px;top:1585.20px;width:440.60px;height:1.20px;background:#44445a"></div>
<div class="bx" style="left:858.00px;top:1612.00px;width:440.60px;height:1.20px;background:#44445a"></div>
<svg style="left:0;top:0" width="1349" height="2260"><polyline points="858.0,1602.9 913.1,1575.7 967.8,1581.0 1023.0,1566.6 1077.7,1568.2 1132.8,1556.6 1188.0,1550.2 1243.5,1530.6 1298.6,1503.8" fill="none" stroke="#1a7fdc" stroke-width="4.5" stroke-linejoin="round"/></svg>
<div class="bx" style="left:836.00px;top:1643.00px;width:472.00px;height:102.00px;background:#e4e6f0;border-radius:5px"></div>
<div class="t" style="left:850.80px;top:1659.21px;font-size:17.00px;color:#0e0e14;font-weight:700;transform:scaleX(0.9955);transform-origin:0 0;">Patients Success Rate is 90%</div>
<div class="t" style="left:850.80px;top:1691.55px;font-size:14.00px;color:#93acd0;letter-spacing:0.062px;transform:scaleX(1.1200);transform-origin:0 0;">Some ways to measure a hospital's performance include:</div>
<div class="t" style="left:850.80px;top:1712.35px;font-size:14.00px;color:#93acd0;letter-spacing:0.065px;transform:scaleX(1.1200);transform-origin:0 0;">regulatory inspection, public satisfaction surveys.</div>
<div class="card" style="left:279px;top:1786px;width:1050px;height:390px"></div>
<div class="t" style="left:300.00px;top:1812.59px;font-size:18.20px;color:#f2f2f6;transform:scaleX(1.0595);transform-origin:0 0;-webkit-text-stroke:0.25px #f2f2f6;">Consultation</div>
<div class="bx" style="left:1206.50px;top:1807.00px;width:101.50px;height:29.00px;border:1px solid #a9acbc;border-radius:5px"></div>
<div class="t" style="left:1218.25px;top:1814.28px;font-size:13.20px;color:#b9bccc;transform:scaleX(1.0775);transform-origin:0 0;">View Details</div>
<svg style="left:0;top:0" width="1349" height="2260"><polygon points="787.70,1897.10 871.70,1945.60 871.70,2042.60 787.70,2091.10 703.70,2042.60 703.70,1945.60" fill="none" stroke="#c4c5d2" stroke-width="1"/><polygon points="787.70,1921.35 850.70,1957.72 850.70,2030.47 787.70,2066.85 724.70,2030.47 724.70,1957.72" fill="none" stroke="#c4c5d2" stroke-width="1"/><polygon points="787.70,1945.60 829.70,1969.85 829.70,2018.35 787.70,2042.60 745.70,2018.35 745.70,1969.85" fill="none" stroke="#c4c5d2" stroke-width="1"/><polygon points="787.70,1969.85 808.70,1981.97 808.70,2006.22 787.70,2018.35 766.70,2006.22 766.70,1981.97" fill="none" stroke="#c4c5d2" stroke-width="1"/><line x1="787.70" y1="1994.10" x2="787.70" y2="1897.10" stroke="#c4c5d2" stroke-opacity="0.45" stroke-width="1"/><line x1="787.70" y1="1994.10" x2="871.70" y2="1945.60" stroke="#c4c5d2" stroke-opacity="0.45" stroke-width="1"/><line x1="787.70" y1="1994.10" x2="871.70" y2="2042.60" stroke="#c4c5d2" stroke-opacity="0.45" stroke-width="1"/><line x1="787.70" y1="1994.10" x2="787.70" y2="2091.10" stroke="#c4c5d2" stroke-opacity="0.45" stroke-width="1"/><line x1="787.70" y1="1994.10" x2="703.70" y2="2042.60" stroke="#c4c5d2" stroke-opacity="0.45" stroke-width="1"/><line x1="787.70" y1="1994.10" x2="703.70" y2="1945.60" stroke="#c4c5d2" stroke-opacity="0.45" stroke-width="1"/><polygon points="787.70,1969.85 836.70,1965.81 822.70,2014.31 787.70,2065.23 719.80,2033.30 717.70,1953.68" fill="rgba(32,191,194,0.2)" stroke="#20bcc2" stroke-width="2"/><circle cx="787.70" cy="1969.85" r="3" fill="#20bcc2" stroke="#dff" stroke-width="0.7"/><circle cx="836.70" cy="1965.81" r="3" fill="#20bcc2" stroke="#dff" stroke-width="0.7"/><circle cx="822.70" cy="2014.31" r="3" fill="#20bcc2" stroke="#dff" stroke-width="0.7"/><circle cx="787.70" cy="2065.23" r="3" fill="#20bcc2" stroke="#dff" stroke-width="0.7"/><circle cx="719.80" cy="2033.30" r="3" fill="#20bcc2" stroke="#dff" stroke-width="0.7"/><circle cx="717.70" cy="1953.68" r="3" fill="#20bcc2" stroke="#dff" stroke-width="0.7"/></svg>
<div class="t" style="left:778.52px;top:1893.29px;font-size:11.00px;color:#6b6c80;">120</div>
<div class="t" style="left:781.58px;top:1917.54px;font-size:11.00px;color:#6b6c80;">90</div>
<div class="t" style="left:781.58px;top:1941.79px;font-size:11.00px;color:#6b6c80;">60</div>
<div class="t" style="left:781.58px;top:1966.04px;font-size:11.00px;color:#6b6c80;">30</div>
<div class="t" style="left:784.64px;top:1990.29px;font-size:11.00px;color:#6b6c80;">0</div>
<div class="t" style="left:762.33px;top:1876.69px;font-size:11.00px;color:#7a7b8f;">Anesthtics</div>
<div class="t" style="left:882.00px;top:1935.69px;font-size:11.00px;color:#7a7b8f;">Gynecology</div>
<div class="t" style="left:882.00px;top:2032.69px;font-size:11.00px;color:#7a7b8f;">Nerology</div>
<div class="t" style="left:764.46px;top:2091.69px;font-size:11.00px;color:#7a7b8f;">Oncology</div>
<div class="t" style="left:633.69px;top:2032.69px;font-size:11.00px;color:#7a7b8f;">Orthopedics</div>
<div class="t" style="left:623.29px;top:1935.69px;font-size:11.00px;color:#7a7b8f;">Physiotherapy</div>
<div class="bx" style="left:281.00px;top:2195.50px;width:1068.00px;height:1.20px;background:#3d3c58"></div>
<div class="t" style="left:301.60px;top:2222.48px;font-size:14.20px;color:#f2f2f6;transform:scaleX(1.0412);transform-origin:0 0;-webkit-text-stroke:0.15px #f2f2f6;">© 2024 </div>
<div class="t" style="left:353.50px;top:2222.48px;font-size:14.20px;color:#9a9cb5;transform:scaleX(1.1036);transform-origin:0 0;">Multipurpose Themes</div>
<div class="t" style="left:503.90px;top:2222.48px;font-size:14.20px;color:#f2f2f6;transform:scaleX(1.0372);transform-origin:0 0;-webkit-text-stroke:0.15px #f2f2f6;">. All Rights Reserved.</div>
<div class="t" style="left:1214.80px;top:2222.48px;font-size:14.20px;color:#9a9cb5;transform:scaleX(1.0743);transform-origin:0 0;">Purchase Now</div>
</body></html>
